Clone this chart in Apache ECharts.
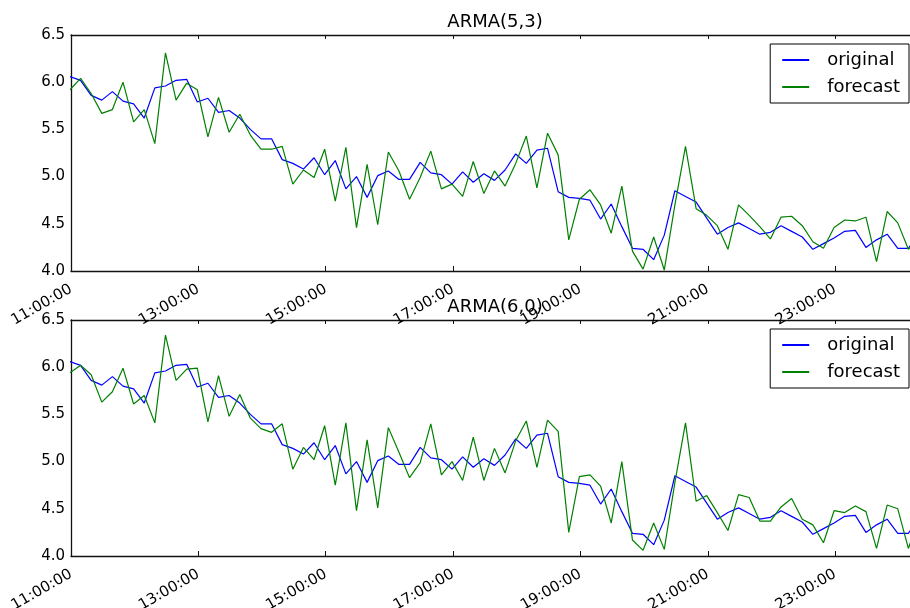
<!DOCTYPE html>
<html>
<head>
<meta charset="utf-8">
<script src="https://cdn.jsdelivr.net/npm/echarts@6/dist/echarts.min.js"></script>
<style>
html,body{margin:0;padding:0;background:#fff;}
#chart{width:910px;height:608px;}
</style>
</head>
<body>
<div id="chart"></div>
<script>
// ---- data ----
var times = [
  '10:59',
  '11:09','11:19','11:29','11:39','11:49','11:59',
  '12:09','12:19','12:29','12:39','12:49','12:59',
  '13:09','13:19','13:29','13:39','13:49','13:59',
  '14:09','14:19','14:29','14:39','14:49','14:59',
  '15:09','15:19','15:29','15:39','15:49','15:59',
  '16:09','16:19','16:29','16:39','16:49','16:59',
  '17:09','17:19','17:29','17:39','17:49','17:59',
  '18:09','18:19','18:29','18:39','18:49','18:59',
  '19:09','19:19','19:29','19:39','19:49','19:59',
  '20:09','20:19','20:29','20:39','20:49','20:59',
  '21:09','21:19','21:29','21:39','21:49','21:59',
  '22:09','22:19','22:29','22:39','22:49','22:59',
  '23:09','23:19','23:29','23:39','23:49','23:59',
  '00:09','00:19'
];

var original = [
  6.06, 6.02, 5.86, 5.81, 5.90, 5.80, 5.77, 5.62, 5.94, 5.96,
  6.02, 6.03, 5.79, 5.83, 5.68, 5.70, 5.62, 5.50, 5.40, 5.40,
  5.18, 5.14, 5.08, 5.20, 5.02, 5.17, 4.87, 5.00, 4.78, 5.01,
  5.06, 4.97, 4.97, 5.15, 5.04, 5.02, 4.92, 5.05, 4.94, 5.03,
  4.96, 5.07, 5.24, 5.14, 5.28, 5.30, 4.84, 4.78, 4.77, 4.75,
  4.55, 4.71, 4.47, 4.24, 4.23, 4.12, 4.38, 4.85, 4.79, 4.73,
  4.56, 4.39, 4.46, 4.51, 4.45, 4.39, 4.41, 4.48, 4.42, 4.36,
  4.23, 4.29, 4.35, 4.42, 4.43, 4.25, 4.33, 4.39, 4.24, 4.24,
  4.40
];

var forecastArma53 = [
  5.92, 6.04, 5.88, 5.67, 5.71, 6.00, 5.58, 5.71, 5.35, 6.31,
  5.81, 5.99, 5.92, 5.42, 5.84, 5.47, 5.66, 5.44, 5.29, 5.29,
  5.32, 4.92, 5.07, 4.99, 5.29, 4.74, 5.31, 4.46, 5.13, 4.49,
  5.26, 5.06, 4.76, 4.99, 5.27, 4.87, 4.92, 4.79, 5.16, 4.82,
  5.06, 4.90, 5.14, 5.43, 4.88, 5.46, 5.23, 4.33, 4.76, 4.86,
  4.70, 4.40, 4.90, 4.21, 4.02, 4.36, 4.01, 4.70, 5.32, 4.66,
  4.59, 4.48, 4.23, 4.70, 4.59, 4.47, 4.34, 4.57, 4.58, 4.48,
  4.31, 4.24, 4.46, 4.54, 4.53, 4.57, 4.10, 4.63, 4.51, 4.23,
  4.35
];

var forecastArma60 = [
  5.94, 6.02, 5.92, 5.63, 5.74, 5.99, 5.61, 5.70, 5.41, 6.34,
  5.86, 5.98, 5.99, 5.42, 5.91, 5.48, 5.71, 5.46, 5.35, 5.31,
  5.40, 4.92, 5.15, 5.02, 5.38, 4.75, 5.41, 4.48, 5.23, 4.51,
  5.36, 5.10, 4.83, 4.99, 5.40, 4.86, 5.00, 4.80, 5.26, 4.80,
  5.14, 4.88, 5.22, 5.43, 4.94, 5.44, 5.32, 4.25, 4.84, 4.86,
  4.74, 4.35, 5.00, 4.17, 4.06, 4.35, 4.07, 4.78, 5.41, 4.58,
  4.64, 4.46, 4.27, 4.65, 4.62, 4.37, 4.37, 4.52, 4.61, 4.39,
  4.33, 4.14, 4.48, 4.46, 4.53, 4.47, 4.08, 4.54, 4.50, 4.08,
  4.40
];

var panelTitles = ['ARMA(5,3)', 'ARMA(6,0)'];
var seriesNames = ['original', 'forecast'];
var xTickLabels = ['11:00:00','13:00:00','15:00:00','17:00:00','19:00:00','21:00:00','23:00:00'];
var yTickLabels = ['4.0','4.5','5.0','5.5','6.0','6.5'];

// ---- helpers ----
// hours elapsed since 11:00 (the first x tick)
function hoursSince11(t) {
  var p = t.split(':');
  var h = parseInt(p[0], 10), m = parseInt(p[1], 10);
  if (h < 10) h += 24;
  return h + m / 60 - 11;
}
function pairs(vals) {
  return vals.map(function (v, i) { return [hoursSince11(times[i]), v]; });
}
var xMax = hoursSince11(times[times.length - 1]);

var FONT = 'DejaVu Sans';
var pxPerHour = 63.65;
var gridLeft = 71;
var gridWidth = Math.round(xMax * pxPerHour);
var tops = [35, 320];
var gridH = 236;

var grids = [], xAxes = [], yAxes = [], series = [], titles = [], legends = [];
var forecasts = [forecastArma53, forecastArma60];

for (var k = 0; k < 2; k++) {
  grids.push({ left: gridLeft, top: tops[k], width: gridWidth, height: gridH, containLabel: false, outerBoundsMode: 'none' });
  // bottom axis with labels
  xAxes.push({
    type: 'value', gridIndex: k, position: 'bottom', min: 0, max: xMax, interval: 2,
    axisLine: { show: true, onZero: false, lineStyle: { color: '#111', width: 1.3 } },
    axisTick: { show: true, inside: true, length: 5, lineStyle: { color: '#111', width: 1 } },
    splitLine: { show: false },
    axisLabel: {
      show: true, rotate: 30, margin: 17, showMaxLabel: false,
      color: '#000', fontSize: 15, fontFamily: FONT,
      formatter: function (v) {
        var idx = Math.round(v / 2);
        return (Math.abs(v - idx * 2) < 1e-6 && xTickLabels[idx]) ? xTickLabels[idx] : '';
      }
    }
  });
  // top spine with ticks
  xAxes.push({
    type: 'value', gridIndex: k, position: 'top', min: 0, max: xMax, interval: 2,
    axisLine: { show: true, onZero: false, lineStyle: { color: '#111', width: 1.3 } },
    axisTick: { show: true, inside: true, length: 4, lineStyle: { color: '#111', width: 1 } },
    splitLine: { show: false },
    axisLabel: { show: false }
  });
  yAxes.push({
    type: 'value', gridIndex: k, min: 4, max: 6.5, interval: 0.5,
    axisLine: { show: true, onZero: false, lineStyle: { color: '#111', width: 1.3 } },
    axisTick: { show: false },
    splitLine: { show: false },
    axisLabel: {
      color: '#000', fontSize: 15, fontFamily: FONT, margin: 6,
      formatter: function (v) {
        var idx = Math.round((v - 4) / 0.5);
        return yTickLabels[idx] || '';
      }
    }
  });
  series.push({
    name: seriesNames[0], type: 'line', xAxisIndex: 2 * k, yAxisIndex: k,
    data: pairs(original), showSymbol: false, symbol: 'none', clip: true,
    color: '#0000ff', lineStyle: { color: '#0000ff', width: 1.2 }, animation: false
  });
  series.push({
    name: seriesNames[1], type: 'line', xAxisIndex: 2 * k, yAxisIndex: k,
    data: pairs(forecasts[k]), showSymbol: false, symbol: 'none', clip: true,
    color: '#008000', lineStyle: { color: '#008000', width: 1.2 }, animation: false
  });
  titles.push({
    text: panelTitles[k], left: gridLeft + gridWidth / 2, textAlign: 'center',
    top: tops[k] - 22, padding: 0,
    textStyle: { color: '#000', fontSize: 18, fontWeight: 'normal', fontFamily: FONT }
  });
  legends.push({
    data: seriesNames, orient: 'vertical', right: 1, top: tops[k] + 9,
    backgroundColor: '#fff', borderColor: '#000', borderWidth: 1, borderRadius: 0,
    padding: [7, 9, 7, 12], itemGap: 9, itemWidth: 27, itemHeight: 2, icon: 'rect',
    selectedMode: false,
    textStyle: { color: '#000', fontSize: 18, fontFamily: FONT, padding: [0, 0, 0, 13] }
  });
}

var chart = echarts.init(document.getElementById('chart'), null, { renderer: 'canvas' });
chart.setOption({
  backgroundColor: '#fff',
  animation: false,
  title: titles,
  legend: legends,
  grid: grids,
  xAxis: xAxes,
  yAxis: yAxes,
  series: series
});
</script>
</body>
</html>
